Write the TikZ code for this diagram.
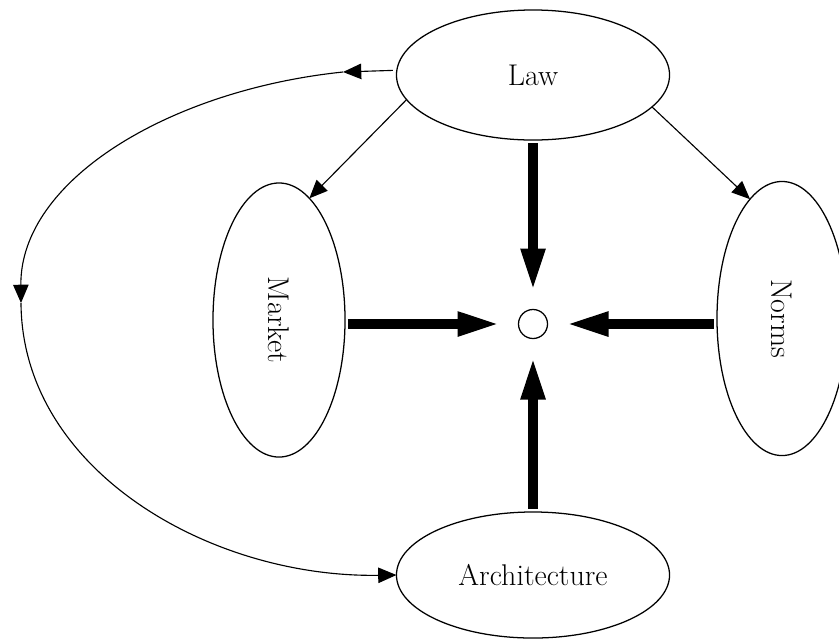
\documentclass[tikz,border=0pt]{standalone}
\usepackage{graphicx}
\usepackage{xcolor}
\usepackage{tikz}
\usetikzlibrary{arrows.meta,shapes.geometric}
\definecolor{figline}{RGB}{0,0,0}
\tikzset{
  blob/.style ={ellipse, draw=figline, line width=0.9pt, inner sep=0pt, outer sep=0pt,
                font=\fontsize{21.3}{25}\selectfont},
  hub/.style  ={circle, draw=figline, line width=0.9pt, minimum size=0.725cm, inner sep=0pt, outer sep=0pt},
  ptr/.style  ={draw=figline, line width=0.8pt, -{Triangle[length=13pt,width=11pt]}},
  push/.style ={draw=figline, line width=6.7pt, -{Triangle[length=30pt,width=16pt]},
                shorten <=0.08cm, shorten >=0.47cm},
}
\begin{document}
\begin{tikzpicture}[x=0.025cm,y=-0.025cm]
  \useasboundingbox (0,0) rectangle (839,640);
  \node[blob, minimum width=6.825cm, minimum height=3.25cm] (law) at (533,75) {Law};
  \node[blob, minimum width=3.3cm, minimum height=6.85cm] (market) at (279,320) {\rotatebox{-90}{Market}};
  \node[blob, minimum width=3.25cm, minimum height=6.85cm] (norms) at (782,318.5) {\rotatebox{-90}{Norms}};
  \node[blob, minimum width=6.825cm, minimum height=3.15cm] (arch) at (533,575) {Architecture};
  \node[hub] (dot) at (533,324) {};
  \coordinate (bendtop) at (343,72);
  \coordinate (bendleft) at (21,303);
  \draw[ptr] (law.191) -- (market.76);
  \draw[ptr] (law.345) -- (norms.105);
  \draw[push] (law.south) -- (dot.north);
  \draw[push] (market.east |- dot) -- (dot.west);
  \draw[push] (norms.west |- dot) -- (dot.east);
  \draw[push] (arch.north) -- (dot.south);
  \draw[ptr, shorten <=0.1cm] (law.178) -- (bendtop);
  \draw[ptr] (bendtop) .. controls (170,90) and (20,180) .. (bendleft);
  \draw[ptr] (bendleft) .. controls (22,470) and (210,578) .. (arch.west);
\end{tikzpicture}
\end{document}
